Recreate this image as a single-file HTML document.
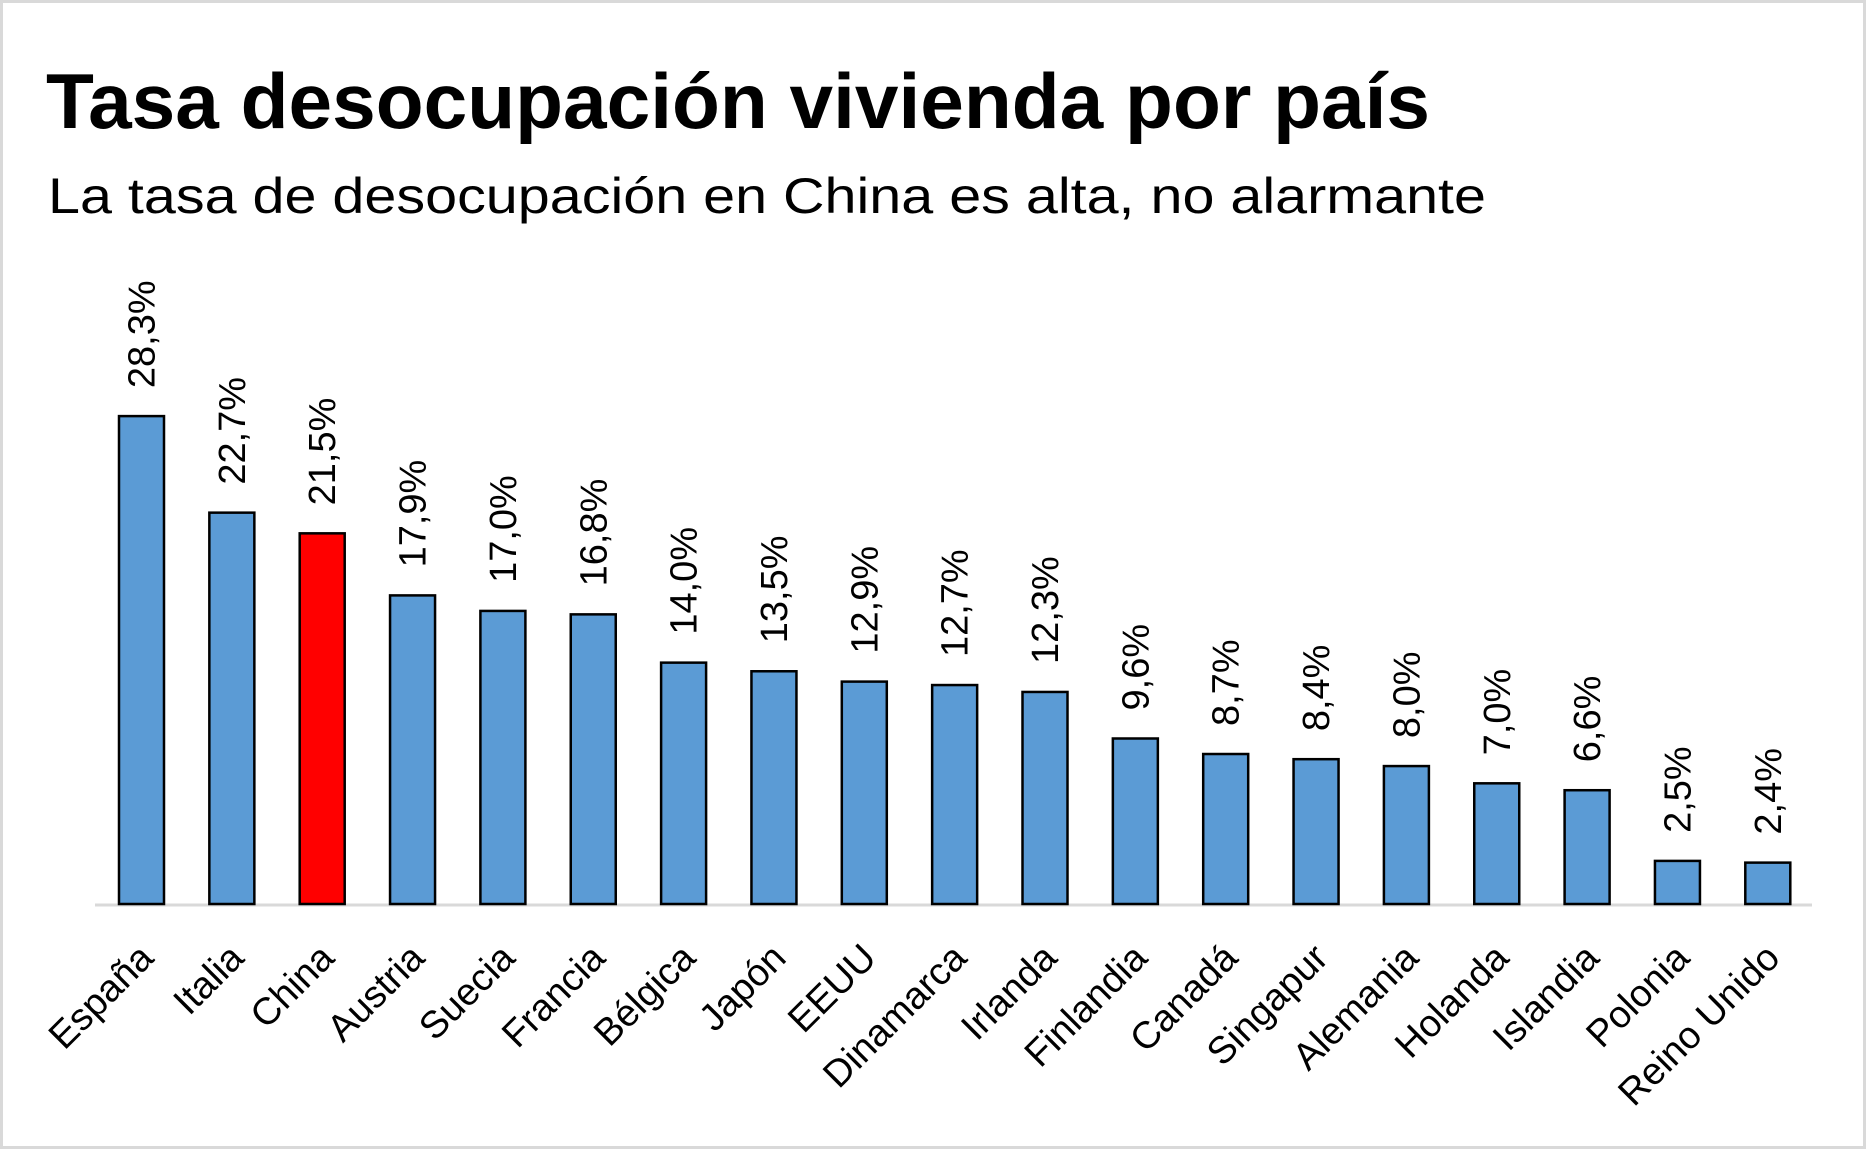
<!DOCTYPE html>
<html><head><meta charset="utf-8"><style>
body{margin:0;background:#fff}
svg{display:block}
</style></head><body>
<svg width="1866" height="1149" viewBox="0 0 1866 1149" font-family="'Liberation Sans', sans-serif">
<rect x="1.5" y="1.5" width="1863" height="1146" fill="#fff" stroke="#d9d9d9" stroke-width="3"/>
<text x="46" y="128" font-size="78" font-weight="bold" textLength="1384" lengthAdjust="spacingAndGlyphs">Tasa desocupación vivienda por país</text>
<text x="48" y="213" font-size="50" textLength="1438" lengthAdjust="spacingAndGlyphs">La tasa de desocupación en China es alta, no alarmante</text>
<line x1="95" y1="905" x2="1812" y2="905" stroke="#d9d9d9" stroke-width="3"/>
<g id="bars"></g>
</svg>
<script>
const categories = ["España","Italia","China","Austria","Suecia","Francia","Bélgica","Japón","EEUU","Dinamarca","Irlanda","Finlandia","Canadá","Singapur","Alemania","Holanda","Islandia","Polonia","Reino Unido"];
const values = [28.3,22.7,21.5,17.9,17.0,16.8,14.0,13.5,12.9,12.7,12.3,9.6,8.7,8.4,8.0,7.0,6.6,2.5,2.4];
const highlight = ["China"];
const NS="http://www.w3.org/2000/svg";
const g=document.getElementById('bars');
const baseY=904, pxPerUnit=17.24, x0=119, step=90.35, bw=45;
function xScale(i){return x0+i*step;}
function yScale(v){return baseY-v*pxPerUnit;}
categories.forEach((c,i)=>{
  const v=values[i];
  const x=xScale(i), y=yScale(v);
  const r=document.createElementNS(NS,'rect');
  r.setAttribute('x',x);r.setAttribute('y',y);r.setAttribute('width',bw);r.setAttribute('height',baseY-y);
  r.setAttribute('fill',highlight.includes(c)?'#ff0000':'#5b9bd5');
  r.setAttribute('stroke','#000');r.setAttribute('stroke-width','2.5');
  
  
  g.appendChild(r);
  const cx=x+bw/2;
  const t=document.createElementNS(NS,'text');
  t.textContent=v.toFixed(1).replace('.',',')+'%';
  t.setAttribute('font-size','38');
  t.setAttribute('transform','translate('+(cx+13)+','+(y-28)+') rotate(-90)');
  
  
  g.appendChild(t);
  const l=document.createElementNS(NS,'text');
  l.textContent=c;
  l.setAttribute('font-size','38');
  l.setAttribute('text-anchor','end');
  l.setAttribute('transform','translate('+(cx+14)+',960) rotate(-45)');
  
  
  g.appendChild(l);
});
</script>
</body></html>
